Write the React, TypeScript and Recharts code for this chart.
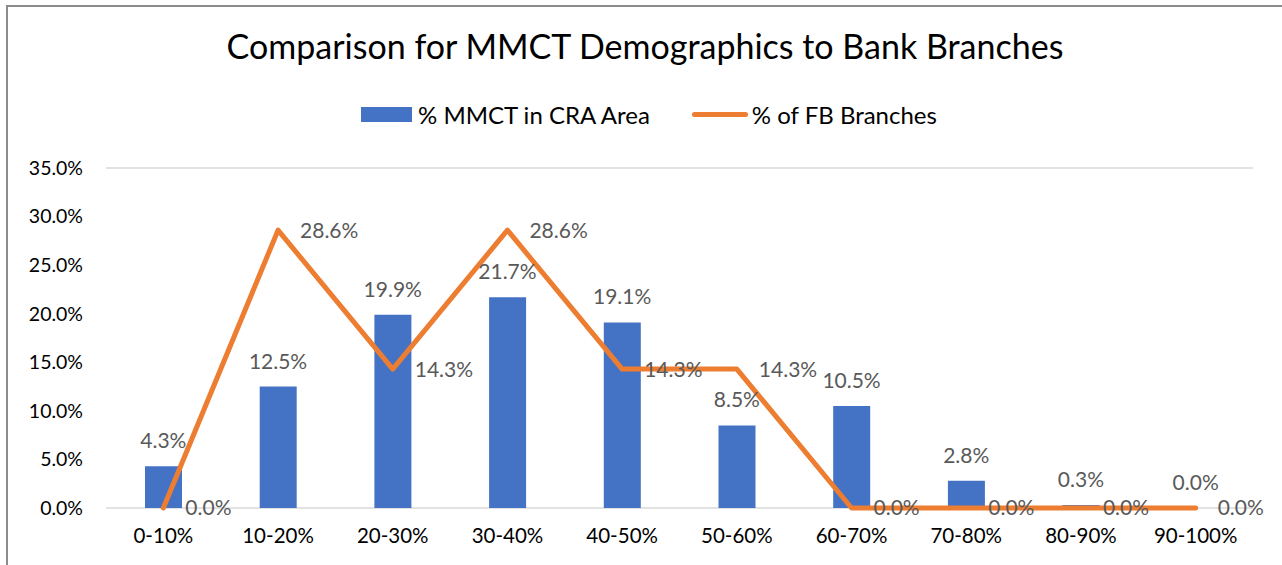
import { ComposedChart, Bar, Line, XAxis, YAxis, CartesianGrid, LabelList } from "recharts";

const categories = ["0-10%", "10-20%", "20-30%", "30-40%", "40-50%", "50-60%", "60-70%", "70-80%", "80-90%", "90-100%"];
const mmctShare = [4.3, 12.5, 19.9, 21.7, 19.1, 8.5, 10.5, 2.8, 0.3, 0.0];
const branchShare = [0.0, 28.6, 14.3, 28.6, 14.3, 14.3, 0.0, 0.0, 0.0, 0.0];
const yTicks = [0, 5, 10, 15, 20, 25, 30, 35];

const data = categories.map((c, i) => ({ name: c, mmct: mmctShare[i], fb: branchShare[i] }));

const FONT = "Lato, 'Open Sans', sans-serif";
const pct = (v: any) => Number(v).toFixed(1) + "%";
const W = 1282;
const H = 565;
const MARGIN = { top: 168, right: 29, bottom: 0, left: 0 };

const BarLabel = (props: any) => {
  const { x, y, value } = props;
  return (
    <text x={x} y={y - 18} textAnchor="middle" fill="#595959" fontSize={21} fontFamily={FONT}>
      {pct(value)}
    </text>
  );
};

// same axes in both layers so the grid lines up with the marks
const axes = (show: boolean) => [
  <XAxis
    key="x"
    dataKey="name"
    height={57}
    tickSize={0}
    tickMargin={20}
    axisLine={false}
    tick={show ? { fill: "#000", fontSize: 20.5, fontFamily: FONT } : false}
    interval={0}
  />,
  <YAxis
    key="y"
    width={106}
    domain={[0, 35]}
    ticks={yTicks}
    tickFormatter={pct}
    axisLine={false}
    tickSize={0}
    tickMargin={23}
    tick={show ? { fill: "#000", fontSize: 19.5, fontFamily: FONT } : false}
  />,
];

export default function App() {
  return (
    <div style={{ position: "fixed", left: 0, top: 0, width: W, height: H, overflow: "hidden", background: "#fff" }}>
      <div style={{ position: "absolute", left: 6, top: 5, width: 1300, height: 600, borderLeft: "2px solid #8c8c8c", borderTop: "2px solid #8c8c8c" }} />
      <div style={{ position: "absolute", left: 8, top: 25, width: 1274, textAlign: "center", fontFamily: FONT, fontSize: 34, color: "#000" }}>
        Comparison for MMCT Demographics to Bank Branches
      </div>
      <div style={{ position: "absolute", left: 0, top: 100, width: 1298, display: "flex", justifyContent: "center", alignItems: "center", fontFamily: FONT, fontSize: 24, color: "#000" }}>
        <span style={{ display: "inline-block", width: 51, height: 15, background: "#4472C4", marginRight: 6 }} />
        <span>% MMCT in CRA Area</span>
        <span style={{ display: "inline-block", width: 56, height: 5, borderRadius: 3, background: "#ED7D31", marginLeft: 42, marginRight: 4 }} />
        <span>% of FB Branches</span>
      </div>
      <div style={{ position: "absolute", left: 0, top: 0 }}>
        <ComposedChart width={W} height={H} data={data} margin={MARGIN}>
          <CartesianGrid vertical={false} stroke="#d9d9d9" strokeWidth={1.5} />
          {axes(false)}
        </ComposedChart>
      </div>
      <div style={{ position: "absolute", left: 0, top: 0 }}>
        <ComposedChart width={W} height={H} data={data} margin={MARGIN}>
          {axes(true)}
          <Bar dataKey="mmct" fill="#4472C4" barSize={37} isAnimationActive={false} />
          <Line dataKey="mmct" stroke="none" dot={false} activeDot={false} legendType="none" isAnimationActive={false}>
            <LabelList dataKey="mmct" content={<BarLabel />} />
          </Line>
          <Line
            dataKey="fb"
            stroke="#ED7D31"
            strokeWidth={5}
            dot={false}
            strokeLinecap="round"
            strokeLinejoin="round"
            isAnimationActive={false}
          >
            <LabelList dataKey="fb" position="right" offset={22} formatter={pct} fill="#595959" fontSize={21} fontFamily={FONT} />
          </Line>
        </ComposedChart>
      </div>
    </div>
  );
}
